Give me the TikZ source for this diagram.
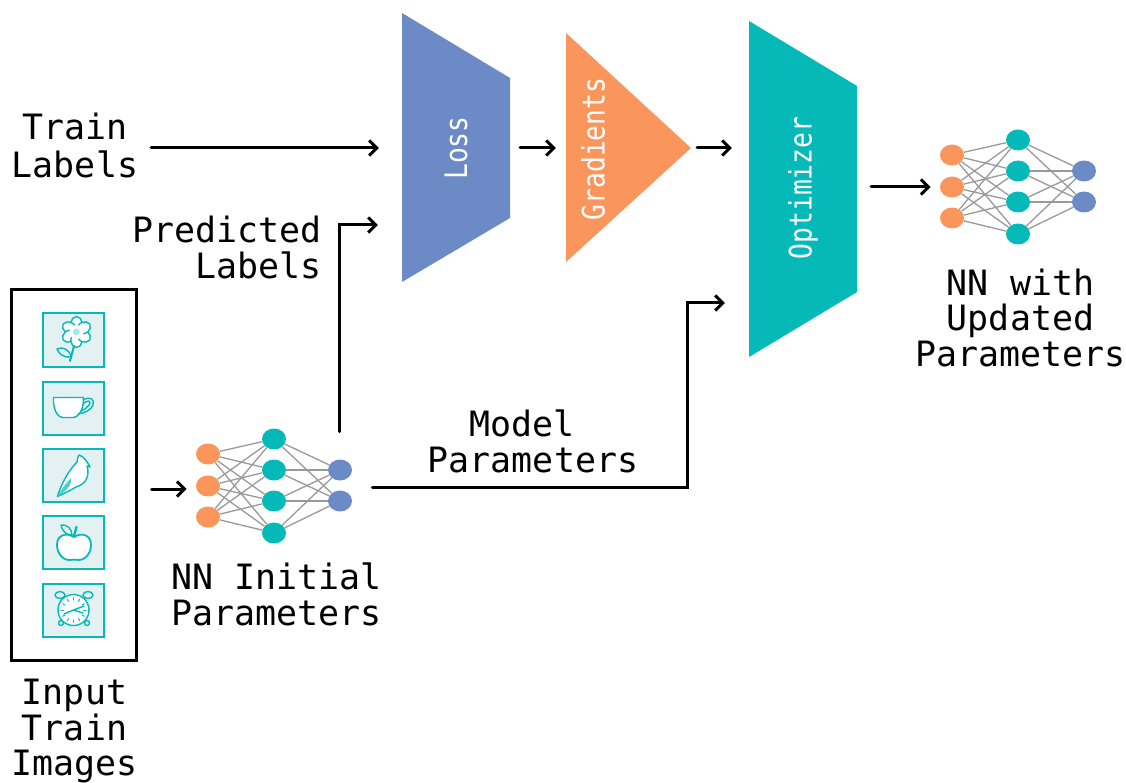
\documentclass[tikz,border=0pt]{standalone}
\usepackage{fontspec}
\setmainfont{DejaVu Sans Mono}
\newfontfamily\blockfont[FakeStretch=0.85]{DejaVu Sans Mono}
\usetikzlibrary{arrows.meta,shapes.geometric,fit,calc}
\definecolor{nnblue}{HTML}{6C8AC6}
\definecolor{nnorange}{HTML}{FA965C}
\definecolor{nnteal}{HTML}{05B9B9}
\definecolor{iconbg}{HTML}{E4F1F3}
\definecolor{edgegray}{HTML}{999999}
\tikzset{
 lbl/.style={font=\fontsize{34.9}{35.5}\selectfont,align=center,inner sep=0pt,text=black},
 lbltall/.style={font=\fontsize{34.9}{38}\selectfont,align=center,inner sep=0pt,text=black},
 arr/.style={line width=3pt,-{Straight Barb[length=7.5pt,width=15pt,line width=3pt]},line cap=round},
 blocktxt/.style={font=\blockfont\fontsize{31}{31}\selectfont,text=white,rotate=90,inner sep=0pt},
 blockbox/.style={inner sep=0pt,minimum width=0pt},
 unit/.style={ellipse,inner sep=0pt,minimum width=24pt,minimum height=21pt},
 edge/.style={edgegray,line width=1.3pt},
 iconbox/.style={draw=nnteal,fill=iconbg,line width=2pt,minimum width=61pt,minimum height=53pt,inner sep=0pt},
 ic/.style={draw=nnteal,line width=1.4pt,line cap=round,line join=round},
}
% prefix, dx, dy
\newcommand{\nnet}[3]{%
 \node[unit,fill=nnorange] (#1a1) at (208+#2,454+#3) {};
 \node[unit,fill=nnorange] (#1a2) at (208+#2,486+#3) {};
 \node[unit,fill=nnorange] (#1a3) at (208+#2,517+#3) {};
 \node[unit,fill=nnteal] (#1b1) at (274+#2,439+#3) {};
 \node[unit,fill=nnteal] (#1b2) at (274+#2,470+#3) {};
 \node[unit,fill=nnteal] (#1b3) at (274+#2,501+#3) {};
 \node[unit,fill=nnteal] (#1b4) at (274+#2,533+#3) {};
 \node[unit,fill=nnblue] (#1c1) at (340+#2,470+#3) {};
 \node[unit,fill=nnblue] (#1c2) at (340+#2,501+#3) {};
 \foreach \p in {1,2,3}{\foreach \q in {1,2,3,4}{\draw[edge] (#1a\p) -- (#1b\q);}}
 \foreach \p in {1,2,3,4}{\foreach \q in {1,2}{\draw[edge] (#1b\p) -- (#1c\q);}}
 \node[fit=(#1a1)(#1a3)(#1b1)(#1b4)(#1c1)(#1c2),inner sep=0pt] (#1) {};
}
\begin{document}
\begin{tikzpicture}[x=1pt,y=-1pt]
\useasboundingbox (0,0) rectangle (1126,783);

% blocks
\fill[nnblue] (402,13) -- (510,78) -- (510,218) -- (402,282) -- cycle;
\fill[nnorange] (566,33) -- (691,148) -- (566,262) -- cycle;
\fill[nnteal] (749,21) -- (857,86) -- (857,292) -- (749,357) -- cycle;
\node[blockbox,minimum height=269pt,minimum width=108pt] (lossbox) at (456,148) {};
\node[blockbox,minimum height=229pt,minimum width=125pt] (gradbox) at (628.5,148) {};
\node[blockbox,minimum height=336pt,minimum width=108pt] (optbox) at (803,189) {};
\node[blocktxt] (losstxt) at (456,148) {Loss};
\node[blocktxt] (gradtxt) at (593,149) {Gradients};
\node[blocktxt] (opttxt) at (803,188) {Optimizer};

% image column
\node[draw=black,line width=3pt,minimum width=125pt,minimum height=370pt,inner sep=0pt] (imgbox) at (73.5,475) {};
\node[iconbox] (flower) at (73.5,340) {};
\node[iconbox] (cup) at (73.5,408) {};
\node[iconbox] (bird) at (73.5,475) {};
\node[iconbox] (apple) at (73.5,542) {};
\node[iconbox] (clock) at (73.5,610) {};

% flower icon
\foreach \a in {0,60,...,300}{
  \begin{scope}[shift={(76.5,332)},rotate=\a]
    \draw[ic,fill=white] (0,0) .. controls (-9,-5) and (-6,-15) .. (0,-15.5) .. controls (6,-15) and (9,-5) .. (0,0);
  \end{scope}
}
\fill[white] (76.5,332) circle[radius=7pt];
\fill[nnteal!35] (76.5,332) circle[radius=3.5pt];
\draw[ic,line width=2pt] (74,346) -- (70,361);
\draw[ic,fill=iconbg] (57,349) .. controls (63,346) and (70,350) .. (71,357) .. controls (64,358) and (59,354) .. (57,349) -- cycle;

% cup icon
\draw[ic,fill=white] (53.5,397.5) -- (83.5,397.5) .. controls (84,407) and (80,417) .. (73,417.5) -- (63,417.5) .. controls (56,417) and (53,407) .. (53.5,397.5) -- cycle;
\draw[ic] (83,400) .. controls (90,396) and (95,399) .. (93,405) .. controls (91,410) and (85,413) .. (78,414);
\draw[ic] (83,404) .. controls (88,399) and (92,401) .. (89,405) .. controls (87,408) and (84,410) .. (81,411);

% bird icon
\draw[ic,fill=white] (57.5,496.5) .. controls (61,484) and (69,470) .. (77,462) .. controls (77,459) and (78,457) .. (79,455) .. controls (83,456) and (87,461) .. (90,467) -- (87,466) .. controls (90,476) and (86,484) .. (76,487) .. controls (71,490) and (63,494) .. (57.5,496.5) -- cycle;
\fill[nnteal!70] (57.5,496.5) .. controls (62,488) and (67,482) .. (71,478) .. controls (72,484) and (68,490) .. (57.5,496.5) -- cycle;

% apple icon
\draw[ic,fill=white,line width=1.8pt] (74,537) .. controls (66,532) and (57,535) .. (57,545) .. controls (57,555) and (65,561) .. (70,560) .. controls (72,559.5) and (76,559.5) .. (78,560) .. controls (83,561) and (91,555) .. (91,545) .. controls (91,535) and (82,532) .. (74,537) -- cycle;
\draw[ic,line width=2.4pt] (74,536) -- (76.5,527);
\draw[ic,fill=iconbg] (61,525) .. controls (67,524) and (72,529) .. (72,535) .. controls (66,535) and (62,531) .. (61,525) -- cycle;

% clock icon
\draw[ic,fill=iconbg] (60,595) ellipse[x radius=5pt,y radius=3.5pt];
\draw[ic,fill=iconbg] (88,595) ellipse[x radius=5pt,y radius=3.5pt];
\draw[ic,fill=iconbg] (61,623) circle[radius=2.5pt];
\draw[ic,fill=iconbg] (87,623) circle[radius=2.5pt];
\draw[ic,fill=white] (73.5,610) circle[radius=15.5pt];
\foreach \a in {0,30,...,330}{
  \draw[ic,line width=1pt] ($(73.5,610)+(\a:10pt)$) -- ($(73.5,610)+(\a:12.5pt)$);
}
\draw[ic] (73.5,610) -- (84,606);
\draw[ic] (73.5,610) -- (83,613);
\draw[ic] (73.5,610) -- (64,614);

% neural nets
\nnet{nni}{0}{0}
\nnet{nnu}{744}{-299}

% labels
\node[lbltall] (trainlbl) at (75,145) {Train\\Labels};
\node[lbl,align=right,anchor=east] (predlbl) at (321.5,247.5) {Predicted\\Labels};
\node[lbl,align=left] (modellbl) at (533,441.5) {\hspace*{42pt}Model\\Parameters};
\node[lbl] (initlbl) at (276.5,594.5) {NN Initial\\Parameters};
\node[lbl] (updlbl) at (1020.5,317.5) {NN with\\Updated\\Parameters};
\node[lbl] (inputlbl) at (74.5,731.5) {Input\\Train\\Images};

% connectors
\draw[arr,shorten <=13pt,shorten >=23pt] (trainlbl.east |- lossbox.west) -- (lossbox.west);
\draw[arr] ($(nni.north)+(65,3.5)$) -- (339,225) -- ($(lossbox.west |- 0,225)+(-24,0)$);
\draw[arr,shorten <=10pt,shorten >=10pt] (lossbox.east |- 0,148) -- (gradbox.west |- 0,148);
\draw[arr,shorten <=6pt,shorten >=17pt] (gradbox.east) -- (optbox.west |- gradbox.east);
\draw[arr] ($(nni.east)+(20,1)$) -- (687,487) -- (687,303) -- ($(optbox.west |- 0,303)+(-24,0)$);
\draw[arr,shorten <=14pt,shorten >=9pt] (optbox.east |- nnu.west) -- (nnu.west);
\draw[arr,shorten <=14pt,shorten >=9pt] ([yshift=-14pt]imgbox.east) -- ([yshift=-3pt]nni.west);
\end{tikzpicture}
\end{document}
